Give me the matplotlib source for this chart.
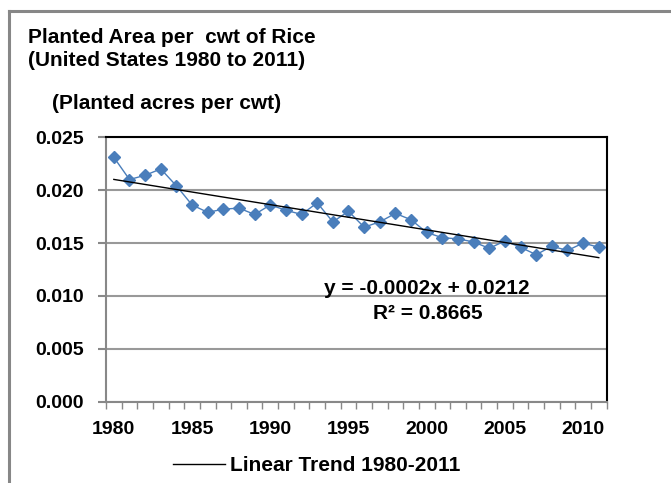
#script to plot planted rice area per cwt with a linear trend
import numpy as np
import matplotlib as mpl
import matplotlib.pyplot as plt
from matplotlib.lines import Line2D

years = np.arange(1980, 2012)
acres_per_cwt = [0.0231, 0.0210, 0.0214, 0.0220, 0.0204, 0.0186, 0.0179, 0.0182,
                 0.0183, 0.0177, 0.0186, 0.0181, 0.0177, 0.0188, 0.0170, 0.0180,
                 0.0165, 0.0170, 0.0178, 0.0172, 0.0160, 0.0155, 0.0154, 0.0151,
                 0.0145, 0.0152, 0.0146, 0.0139, 0.0147, 0.0143, 0.0150, 0.0146]
y_ticks = [0.000, 0.005, 0.010, 0.015, 0.020, 0.025]
x_labels = ['1980', '1985', '1990', '1995', '2000', '2005', '2010']

mpl.rc('font', family='Liberation Sans', weight='bold', size=14)

fig = plt.figure(figsize=(6.71, 4.83), dpi=100)
ax = fig.add_axes([0.158, 0.168, 0.746, 0.548])

# category positions 0..31, like excel's category axis
pos = np.arange(len(years))
ax.plot(pos, acres_per_cwt, color='#4A7EBB', lw=1.0, marker='D', ms=6.5,
        markerfacecolor='#4A7EBB', markeredgecolor='#4A7EBB', zorder=3)

slope, intercept = np.polyfit(pos + 1, acres_per_cwt, 1)
ax.plot(pos, slope * (pos + 1) + intercept, color='black', lw=1.0, zorder=4)

ax.set_xlim(-0.5, len(years) - 0.5)
ax.set_ylim(0, 0.025)
ax.set_yticks(y_ticks)
ax.set_yticklabels(['%.3f' % v for v in y_ticks])
ax.yaxis.grid(True, color='#999999', lw=1.5)
ax.set_axisbelow(True)

ax.set_xticks(np.arange(-0.5, len(years)), minor=False)
ax.set_xticklabels([])
ax.set_xticks([int(l) - 1980 for l in x_labels], minor=True)
ax.set_xticklabels(x_labels, minor=True)
ax.tick_params(axis='x', which='major', length=5, color='#888888', width=1)
ax.tick_params(axis='x', which='minor', length=0, pad=14)
ax.tick_params(axis='y', length=6, color='#888888', width=1.5, pad=10)

for side in ['left', 'bottom']:
    ax.spines[side].set_color('#888888')
    ax.spines[side].set_linewidth(1.5)
for side in ['top', 'right']:
    ax.spines[side].set_color('black')
    ax.spines[side].set_linewidth(1.5)

fig.text(0.0417, 0.9116, 'Planted Area per  cwt of Rice', ha='left', va='baseline', fontsize=15)
fig.text(0.0417, 0.8625, '(United States 1980 to 2011)', ha='left', va='baseline', fontsize=15)
fig.text(0.077, 0.774, '(Planted acres per cwt)', ha='left', va='baseline', fontsize=15)

fig.text(0.636, 0.391, 'y = -0.0002x + 0.0212', ha='center', va='baseline', fontsize=15)
fig.text(0.638, 0.3395, 'R² = 0.8665', ha='center', va='baseline', fontsize=15)

# legend entry for the trend line
fig.add_artist(Line2D([0.258, 0.335], [0.039, 0.039], color='black', lw=1.0))
fig.text(0.343, 0.0255, 'Linear Trend 1980-2011', ha='left', va='baseline', fontsize=15)

# outer gray chart border, cut off at the right and bottom
fig.add_artist(Line2D([0.0127, 1.0], [0.978, 0.978], color='#878787', lw=2.2))
fig.add_artist(Line2D([0.0127, 0.0127], [0.0, 0.978], color='#878787', lw=2.2))

plt.savefig('out.png', dpi=100)
